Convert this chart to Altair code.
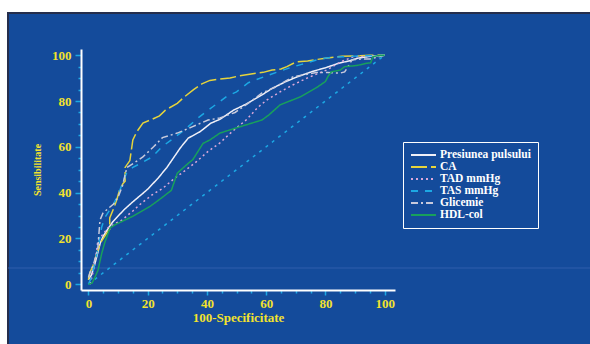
import altair as alt
import pandas as pd

series = ["Presiunea pulsului", "CA", "TAD mmHg", "TAS mmHg", "Glicemie", "HDL-col"]
colors = ["#F0F0F8", "#E6D43C", "#DCA8DA", "#1CA8E4", "#C8CADC", "#18A05C"]
dashes = [[1, 0], [16, 4], [2, 3], [7, 7], [7, 3, 2, 3], [1, 0]]

pp_x = [0, 1, 2, 3, 4, 5, 6.5, 8.3, 12, 15, 18.4, 20, 23.5, 26.5, 29, 31, 33.7, 37.7, 41.3, 44.4, 49, 53, 59, 62, 66.7, 70.4, 75.6, 80, 84.5, 88, 91, 95, 100]
pp_y = [2, 4, 8, 13, 18, 21, 24, 27.4, 32.5, 36, 39.7, 41.5, 46.3, 51, 55.7, 59.5, 63.8, 66.6, 70.3, 72, 76, 78.5, 83, 85.5, 88.5, 90.5, 92.9, 94.5, 96.5, 97.5, 98.7, 99.5, 100]

ca_x = [0, 0.5, 1.5, 2.5, 3.5, 4.5, 6, 7.2, 7.2, 8.5, 9.6, 10.5, 11.7, 12.4, 12.4, 14, 15, 16.3, 18.4, 21.5, 24, 26, 30, 32.6, 35.5, 38.3, 41, 44, 47.8, 51, 56, 59, 62, 65, 67, 70, 74, 76.5, 80, 85.6, 91.7, 95, 100]
ca_y = [2, 5, 8, 12, 16, 19, 22, 24, 29, 33, 37, 41, 44, 45, 51, 54, 63, 66.5, 70.4, 72, 73.5, 76, 79, 82, 85, 87.5, 89, 89.5, 90, 91, 92, 92.5, 93.5, 94, 95, 97, 97.5, 98, 98.7, 99.5, 99.7, 100, 100]

tad_x = [0.6, 1.5, 2.5, 3.2, 5, 6.6, 9, 11.3, 15, 18, 21.5, 25.2, 29.2, 32, 36, 40.4, 44.4, 48.8, 53.5, 57, 60.3, 64.7, 69, 73.8, 80.6, 85, 89.4, 95, 100]
tad_y = [0, 5, 12, 19, 22, 24.6, 26.5, 28, 32, 35.5, 39, 42, 46.4, 49, 53, 58, 61.7, 67, 72, 77, 80.5, 84, 87, 90, 93.6, 97, 99.3, 99.5, 100]

tas_x = [0, 1, 2, 3, 3.8, 4.5, 5.5, 7, 8.5, 10, 11.7, 13, 15, 18, 21.5, 24.8, 28, 33, 37, 42, 46.7, 50, 54, 61, 68, 72, 78, 81.6, 86, 92, 96, 100]
tas_y = [0, 3, 8, 14, 20, 25, 29, 32, 35, 39, 44.6, 49, 51, 53, 55.6, 60, 63, 68, 72.6, 77.5, 82, 84, 88, 91.4, 94.5, 96, 98.3, 99, 99.3, 99.7, 99.7, 100]

gli_x = [0, 0.5, 1.5, 2.5, 3.2, 3.9, 4.9, 6.6, 8.5, 10, 11.5, 13, 15.5, 18.4, 22, 25, 30, 35, 40.4, 44.4, 49.5, 55, 58.6, 63, 69, 73, 77, 80.6, 85, 86.5, 87.4, 89, 92, 95, 100]
gli_y = [3, 5, 8, 12, 16, 28, 31, 33, 35, 38, 43, 51, 53, 55.6, 60, 64, 66, 68.7, 71.7, 72.6, 75, 80, 83.5, 86, 90.5, 91.5, 92.4, 92.4, 92.2, 92.7, 94.5, 98, 98.3, 98.3, 100]

hdl_x = [0, 1.2, 2.2, 3.2, 4.5, 5.6, 7.3, 9, 14.7, 20.8, 24, 28, 30, 33, 35.3, 38.7, 41, 44.4, 47.8, 51, 58.6, 61, 64.7, 68, 71.5, 77.2, 80, 81, 82, 85, 86.5, 90.7, 94, 95.3, 96, 97.2, 100]
hdl_y = [0, 0.5, 3, 6, 13.5, 18.5, 24.6, 26, 29.5, 34, 37, 41, 48.5, 52, 54.5, 61.5, 63, 66, 67.4, 68.7, 71.7, 74, 78.3, 80, 81.8, 86, 88.5, 91, 92.7, 93.5, 95, 95.5, 96.5, 96.7, 99.3, 99.7, 100]

diag_x = [0, 100]
diag_y = [0, 100]

curves = [(pp_x, pp_y), (ca_x, ca_y), (tad_x, tad_y), (tas_x, tas_y), (gli_x, gli_y), (hdl_x, hdl_y)]
rows = []
for name, (xs_, ys_) in zip(series, curves):
    for i, (a, b) in enumerate(zip(xs_, ys_)):
        rows.append({"x": a, "y": b, "series": name, "order": i})
df = pd.DataFrame(rows)
diag_df = pd.DataFrame({"x": diag_x, "y": diag_y})

BLUE = "#144B9B"
YELLOW = "#F2E22E"
CYAN = "#1CA8E4"
FONT = "Liberation Serif"

x_scale = alt.Scale(domain=[-2.5, 103.5], nice=False, zero=False)
y_scale = alt.Scale(domain=[-2.5, 102.7], nice=False, zero=False)
ticks = list(range(0, 101, 5))

x_axis = alt.Axis(
    values=ticks, labelExpr="datum.value % 20 === 0 ? datum.label : ''",
    tickSize={"condition": {"test": "datum.value % 20 === 0", "value": 5}, "value": 3},
    tickColor=CYAN, tickWidth=1.5, domainColor="white", domainWidth=2,
    labelColor=YELLOW, labelFont=FONT, labelFontWeight="bold", labelFontSize=13,
    labelPadding=2, labelOverlap=False, labelFlush=False, grid=False, zindex=1,
    title="100-Specificitate", titleColor=YELLOW, titleFont=FONT, titleFontWeight="bold",
    titleFontSize=13, titlePadding=1,
)
y_axis = alt.Axis(
    values=ticks, labelExpr="datum.value % 20 === 0 ? datum.label : ''",
    tickSize={"condition": {"test": "datum.value % 20 === 0", "value": 6}, "value": 3},
    tickColor=CYAN, tickWidth=1.5, domainColor="white", domainWidth=2,
    labelColor=YELLOW, labelFont=FONT, labelFontWeight="bold", labelFontSize=13,
    labelPadding=4, labelOverlap=False, labelFlush=False, grid=False, zindex=1,
    title="Sensibilitate", titleColor=YELLOW, titleFont=FONT, titleFontWeight="bold",
    titleFontSize=10, titlePadding=9,
)

one = pd.DataFrame({"a": [0]})
panel = alt.Chart(one).mark_rect(fill=BLUE, stroke="#252E4C", strokeWidth=2).encode(
    x=alt.value(-73), x2=alt.value(515), y=alt.value(-36), y2=alt.value(300)
)
faint = alt.Chart(one).mark_rule(color="#2E5EAC", strokeWidth=1).encode(
    x=alt.value(-73), x2=alt.value(509), y=alt.value(219)
)

diag = alt.Chart(diag_df).mark_line(color=CYAN, strokeWidth=1.5, strokeDash=[3, 5]).encode(
    x=alt.X("x:Q", scale=x_scale, axis=x_axis),
    y=alt.Y("y:Q", scale=y_scale, axis=y_axis),
)

legend = alt.Legend(
    title=None, orient="none", legendX=322, legendY=93,
    symbolType="M-1,0H4", symbolSize=100, symbolStrokeWidth=2,
    labelFont=FONT, labelFontWeight="bold", labelFontSize=11.5, labelColor="white",
    labelOffset=18, strokeColor="white", padding=7, rowPadding=0,
)

lines = alt.Chart(df).mark_line(strokeWidth=1.5).encode(
    x=alt.X("x:Q", scale=x_scale, axis=x_axis),
    y=alt.Y("y:Q", scale=y_scale, axis=y_axis),
    color=alt.Color("series:N", scale=alt.Scale(domain=series, range=colors), sort=series, legend=legend),
    strokeDash=alt.StrokeDash("series:N", scale=alt.Scale(domain=series, range=dashes), sort=series, legend=legend),
    order=alt.Order("order:Q"),
)

chart = alt.layer(panel, faint, diag, lines).properties(
    width=314, height=241,
    padding={"left": 81, "top": 49, "right": 195, "bottom": 54},
    autosize=alt.AutoSizeParams(type="none"),
    background="white",
).configure_view(stroke=None)

chart.save("out.html", embed_options={"renderer": "svg", "actions": False})
